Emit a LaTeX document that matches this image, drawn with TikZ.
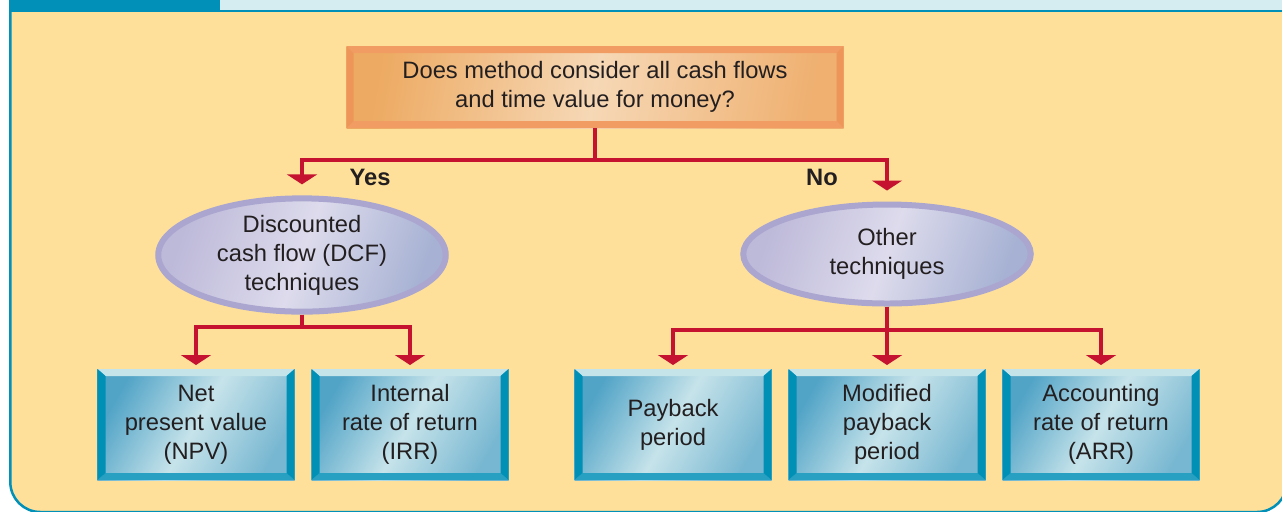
\documentclass[tikz,border=0pt]{standalone}
\usepackage{fontspec}
\setmainfont{Liberation Sans}
\usetikzlibrary{arrows.meta,shapes.geometric}

\definecolor{panelyellow}{HTML}{FEE09A}
\definecolor{frameteal}{HTML}{0090B8}
\definecolor{barblue}{HTML}{D5EDF1}
\definecolor{linkred}{HTML}{C41230}
\definecolor{qleft}{HTML}{EDAA62}
\definecolor{qmid}{HTML}{F6D8B6}
\definecolor{qright}{HTML}{EFB070}
\definecolor{qframe}{HTML}{F19C62}
\definecolor{qframeside}{HTML}{EE965A}
\definecolor{lavleft}{HTML}{BDB9D9}
\definecolor{lavmid}{HTML}{DDDBEC}
\definecolor{lavright}{HTML}{A6B1D3}
\definecolor{lavrim}{HTML}{ABA6CF}
\definecolor{boxleft}{HTML}{52A4C7}
\definecolor{boxmid}{HTML}{C6E3EA}
\definecolor{boxright}{HTML}{78B7D1}
\definecolor{bevtop}{HTML}{C4E4EA}
\definecolor{bevside}{HTML}{0090B6}
\definecolor{bevbottom}{HTML}{28A0C2}
\definecolor{inktext}{HTML}{231F20}

\tikzset{
  question/.style={rectangle, minimum width=9.94cm, minimum height=1.64cm,
    inner sep=0pt, outer sep=0pt, align=center,
    left color=qleft, right color=qright, middle color=qmid, shading angle=80},
  technique/.style={ellipse, draw=lavrim, line width=0.12cm,
    minimum width=5.75cm, minimum height=1.98cm, inner sep=0pt, align=center,
    left color=lavleft, right color=lavright, middle color=lavmid, shading angle=70},
  method/.style={rectangle, minimum width=3.94cm, minimum height=2.22cm,
    inner sep=0pt, outer sep=0pt, align=center,
    left color=boxleft, right color=boxright, middle color=boxmid, shading angle=60},
  answer/.style={font=\fontsize{13.5}{16.5}\selectfont\bfseries},
  link/.style={draw=linkred, line width=0.08cm},
  flow/.style={link, -{Triangle[width=0.6cm,length=0.2cm]}},
}

\begin{document}
\begin{tikzpicture}[x=0.2mm, y=-0.2mm, text=inktext,
  font=\fontsize{13.5}{16.5}\selectfont]

\clip (0,0) rectangle (1282,511);

% Cadre
\draw[draw=frameteal, line width=0.05cm, fill=panelyellow, rounded corners=0.6cm]
  (10.3,12) -- (10.3,512) -- (1287,512) -- (1287,12);
\fill[frameteal] (9,-5) rectangle (1290,12);
\fill[barblue] (219.5,-5) rectangle (1290,9.5);

% Question
\node[question] (question) at (595,87)
  {Does method consider all cash flows\\and time value for money?};
\fill[qframe] (question.north west) -- (question.north east)
  -- ([xshift=-0.14cm,yshift=-0.14cm]question.north east)
  -- ([xshift=0.14cm,yshift=-0.14cm]question.north west) -- cycle;
\fill[qframe] (question.south west) -- (question.south east)
  -- ([xshift=-0.14cm,yshift=0.14cm]question.south east)
  -- ([xshift=0.14cm,yshift=0.14cm]question.south west) -- cycle;
\fill[qframeside] (question.north west) -- (question.south west)
  -- ([xshift=0.14cm,yshift=0.14cm]question.south west)
  -- ([xshift=0.14cm,yshift=-0.14cm]question.north west) -- cycle;
\fill[qframeside] (question.north east) -- (question.south east)
  -- ([xshift=-0.14cm,yshift=0.14cm]question.south east)
  -- ([xshift=-0.14cm,yshift=-0.14cm]question.north east) -- cycle;

% Techniques
\node[technique] (dcf) at (302,255) {Discounted\\cash flow (DCF)\\techniques};
\node[technique] (other) at (887,254) {Other\\techniques};

% Methodes
\node[method] (npv) at (196,424.5) {Net\\present value\\(NPV)};
\node[method] (irr) at (410,424.5) {Internal\\rate of return\\(IRR)};
\node[method] (payback) at (673,424.5) {Payback\\period};
\node[method] (modified) at (887,424.5) {Modified\\payback\\period};
\node[method] (arr) at (1101,424.5) {Accounting\\rate of return\\(ARR)};

\foreach \n in {npv,irr,payback,modified,arr}{
  \fill[bevtop] (\n.north west) -- (\n.north east)
    -- ([xshift=-0.16cm,yshift=-0.14cm]\n.north east)
    -- ([xshift=0.16cm,yshift=-0.14cm]\n.north west) -- cycle;
  \fill[bevbottom] (\n.south west) -- (\n.south east)
    -- ([xshift=-0.16cm,yshift=0.14cm]\n.south east)
    -- ([xshift=0.16cm,yshift=0.14cm]\n.south west) -- cycle;
  \fill[bevside] (\n.north west) -- (\n.south west)
    -- ([xshift=0.16cm,yshift=0.14cm]\n.south west)
    -- ([xshift=0.16cm,yshift=-0.14cm]\n.north west) -- cycle;
  \fill[bevside] (\n.north east) -- (\n.south east)
    -- ([xshift=-0.16cm,yshift=0.14cm]\n.south east)
    -- ([xshift=-0.16cm,yshift=-0.14cm]\n.north east) -- cycle;
}

% Relations
\coordinate (qfork) at (595,160);
\draw[link] (question) -- (qfork);
\draw[flow, shorten >=0.22cm] (qfork) -| (dcf.north);
\draw[flow, shorten >=0.22cm] (qfork) -| (other.north);

\node[answer] (yes) at (370,177) {Yes};
\node[answer] (no) at (822,177) {No};

\coordinate (dfork) at (302,327);
\draw[link] (dcf) -- (dfork);
\draw[flow, shorten >=0.08cm] (dfork) -| (npv.north);
\draw[flow, shorten >=0.08cm] (dfork) -| (irr.north);

\coordinate (ofork) at (887,330);
\draw[link] (other) -- (ofork);
\draw[flow, shorten >=0.08cm] (ofork) -| (payback.north);
\draw[flow, shorten >=0.08cm] (ofork) -- (modified.north);
\draw[flow, shorten >=0.08cm] (ofork) -| (arr.north);

\end{tikzpicture}
\end{document}
